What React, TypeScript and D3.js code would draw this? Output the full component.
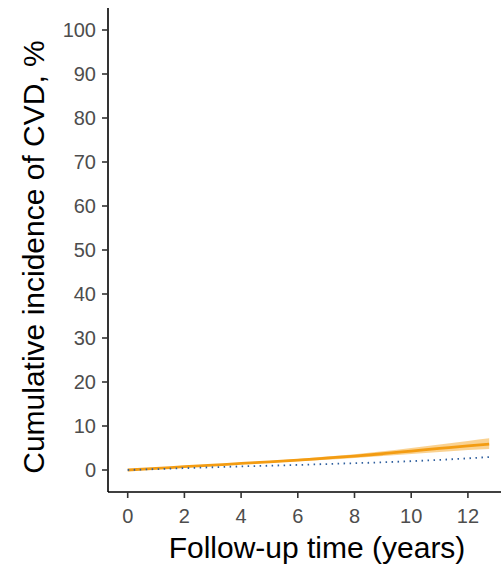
import React from "react";
import * as d3 from "d3";

const years = [0, 1, 2, 3, 4, 5, 6, 7, 8, 9, 10, 11, 12, 12.75];
const orangeMid = [0, 0.35, 0.75, 1.1, 1.5, 1.85, 2.25, 2.7, 3.15, 3.7, 4.3, 4.9, 5.5, 5.9];
const orangeLow = [0, 0.3, 0.68, 1.0, 1.35, 1.65, 2.0, 2.35, 2.75, 3.2, 3.65, 4.1, 4.55, 4.75];
const orangeHigh = [0, 0.4, 0.82, 1.2, 1.65, 2.05, 2.5, 3.05, 3.6, 4.25, 5.0, 5.8, 6.6, 7.2];
const blueMid = [0, 0.2, 0.42, 0.62, 0.82, 0.98, 1.15, 1.35, 1.55, 1.75, 2.0, 2.3, 2.65, 2.95];

const xTicks = [0, 2, 4, 6, 8, 10, 12];
const yTicks = [0, 10, 20, 30, 40, 50, 60, 70, 80, 90, 100];
const xTitle = "Follow-up time (years)";
const yTitle = "Cumulative incidence of CVD, %";

export default function App() {
  const W = 501, H = 566;
  const left = 108, top = 8, bottom = 492;
  const x = d3.scaleLinear().domain([0, 2]).range([127.7, 184.4]);
  const y = d3.scaleLinear().domain([-5, 105]).range([bottom, top]);

  const idx = years.map((_, i) => i);
  const line = (vals: number[]) =>
    d3.line<number>().x((i) => x(years[i])).y((i) => y(vals[i])).curve(d3.curveMonotoneX)(idx) || "";
  const band = d3
    .area<number>()
    .x((i) => x(years[i]))
    .y0((i) => y(orangeLow[i]))
    .y1((i) => y(orangeHigh[i]))
    .curve(d3.curveMonotoneX)(idx) || "";

  const font = "'Liberation Sans', Arial, sans-serif";

  return (
    <svg width={W} height={H} style={{ position: "absolute", left: 0, top: 0, background: "#fff" }}>
      <rect width={W} height={H} fill="#fff" />
      <path d={band} fill="#F5A623" opacity={0.5} />
      <path d={line(orangeMid)} fill="none" stroke="#F39C12" strokeWidth={2.8} />
      <path d={line(blueMid)} fill="none" stroke="#2F5F9E" strokeWidth={1.8} strokeDasharray="1.5,4.5" />

      {/* axes */}
      <line x1={left} x2={left} y1={top} y2={bottom} stroke="#000" strokeWidth={1.6} />
      <line x1={left} x2={W} y1={bottom} y2={bottom} stroke="#000" strokeWidth={1.6} />

      {yTicks.map((t) => (
        <g key={"y" + t}>
          <line x1={left - 6} x2={left} y1={y(t)} y2={y(t)} stroke="#333" strokeWidth={1.6} />
          <text x={left - 12} y={y(t)} dy="0.36em" textAnchor="end" fontSize={20} fill="#4D4D4D" fontFamily={font}>
            {t}
          </text>
        </g>
      ))}
      {xTicks.map((t) => (
        <g key={"x" + t}>
          <line x1={x(t)} x2={x(t)} y1={bottom} y2={bottom + 6} stroke="#333" strokeWidth={1.6} />
          <text x={x(t)} y={523} textAnchor="middle" fontSize={20} fill="#4D4D4D" fontFamily={font}>
            {t}
          </text>
        </g>
      ))}

      <text x={317} y={558} textAnchor="middle" fontSize={30} fill="#000" fontFamily={font}>
        {xTitle}
      </text>
      <text
        transform={`translate(44,257) rotate(-90)`}
        textAnchor="middle"
        fontSize={30}
        fill="#000"
        fontFamily={font}
      >
        {yTitle}
      </text>
    </svg>
  );
}
